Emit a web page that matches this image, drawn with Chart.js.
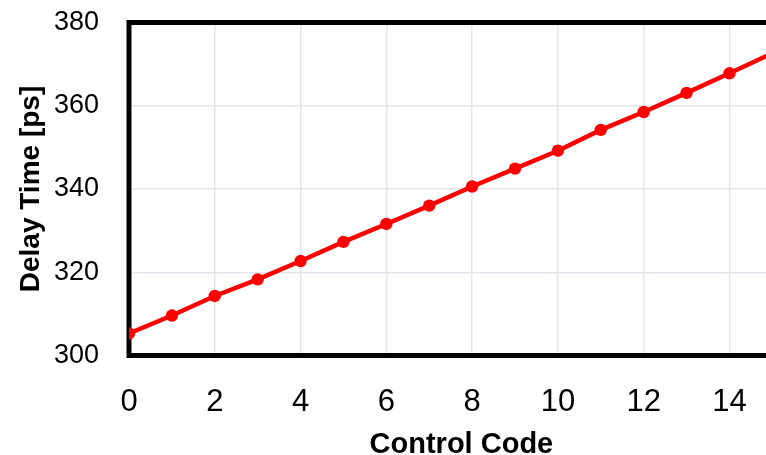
<!DOCTYPE html>
<html>
<head>
<meta charset="utf-8">
<script src="https://cdn.jsdelivr.net/npm/chart.js@4"></script>
<style>
  html, body { margin: 0; padding: 0; background: #fff; overflow: hidden; }
  #wrap { width: 800px; height: 455px; }
</style>
</head>
<body>
<div id="wrap"><canvas id="chart"></canvas></div>
<script>
const codes = [0, 1, 2, 3, 4, 5, 6, 7, 8, 9, 10, 11, 12, 13, 14, 15]
const delay = [305.3, 309.6, 314.3, 318.3, 322.7, 327.3, 331.6, 336.0, 340.6, 344.9, 349.2, 354.2, 358.5, 363.1, 367.8, 372.6]
const yTicks = [300, 320, 340, 360, 380]
const xTicks = [0, 2, 4, 6, 8, 10, 12, 14]

var points = codes.map((c, i) => ({ x: c, y: delay[i] }))

// thick black box round the plot
const frame = {
    id: "frame",
    beforeDatasetsDraw(chart) {
        const a = chart.chartArea
        const ctx = chart.ctx
        ctx.save()
        ctx.strokeStyle = "#000"
        ctx.lineWidth = 5
        ctx.strokeRect(a.left, a.top, a.right - a.left, a.bottom - a.top)
        ctx.restore()
    }
}

new Chart(document.querySelector("#chart"), {
    type: "line",
    data: {
        datasets: [{
            data: points,
            borderColor: "#ff0000",
            backgroundColor: "#ff0000",
            borderWidth: 4.5,
            pointRadius: 6.2,
            pointBorderWidth: 0,
            tension: 0
        }]
    },
    options: {
        responsive: true,
        maintainAspectRatio: false,
        animation: false,
        layout: { padding: { top: 22.5, right: 0, left: 14, bottom: 0 } },
        plugins: { legend: { display: false }, tooltip: { enabled: false } },
        scales: {
            x: {
                type: "linear",
                min: 0,
                max: 15.5,
                afterBuildTicks: axis => { axis.ticks = xTicks.map(v => ({ value: v })) },
                afterFit: axis => { axis.height = 99.5 },
                border: { display: false },
                grid: { color: "#e3e6ee", lineWidth: 1.5, drawTicks: false },
                ticks: {
                    padding: 28,
                    color: "#000",
                    font: { family: "Liberation Sans", size: 31 }
                },
                title: {
                    display: true,
                    text: "Control Code",
                    color: "#000",
                    padding: 0,
                    font: { family: "Liberation Sans", size: 29, weight: "bold", lineHeight: 0.7 }
                }
            },
            y: {
                min: 300,
                max: 380,
                afterBuildTicks: axis => { axis.ticks = yTicks.map(v => ({ value: v })) },
                afterFit: axis => {
                    axis.width = 115
                    axis.paddingTop = 0
                    axis.paddingBottom = 0
                },
                border: { display: false },
                grid: { color: "#e3e6ee", lineWidth: 1.5, drawTicks: false },
                ticks: {
                    padding: 30,
                    color: "#000",
                    font: { family: "Liberation Sans", size: 27 }
                },
                title: {
                    display: true,
                    text: "Delay Time [ps]",
                    color: "#000",
                    padding: 0,
                    font: { family: "Liberation Sans", size: 28, weight: "bold" }
                }
            }
        }
    },
    plugins: [frame]
})
</script>
</body>
</html>
